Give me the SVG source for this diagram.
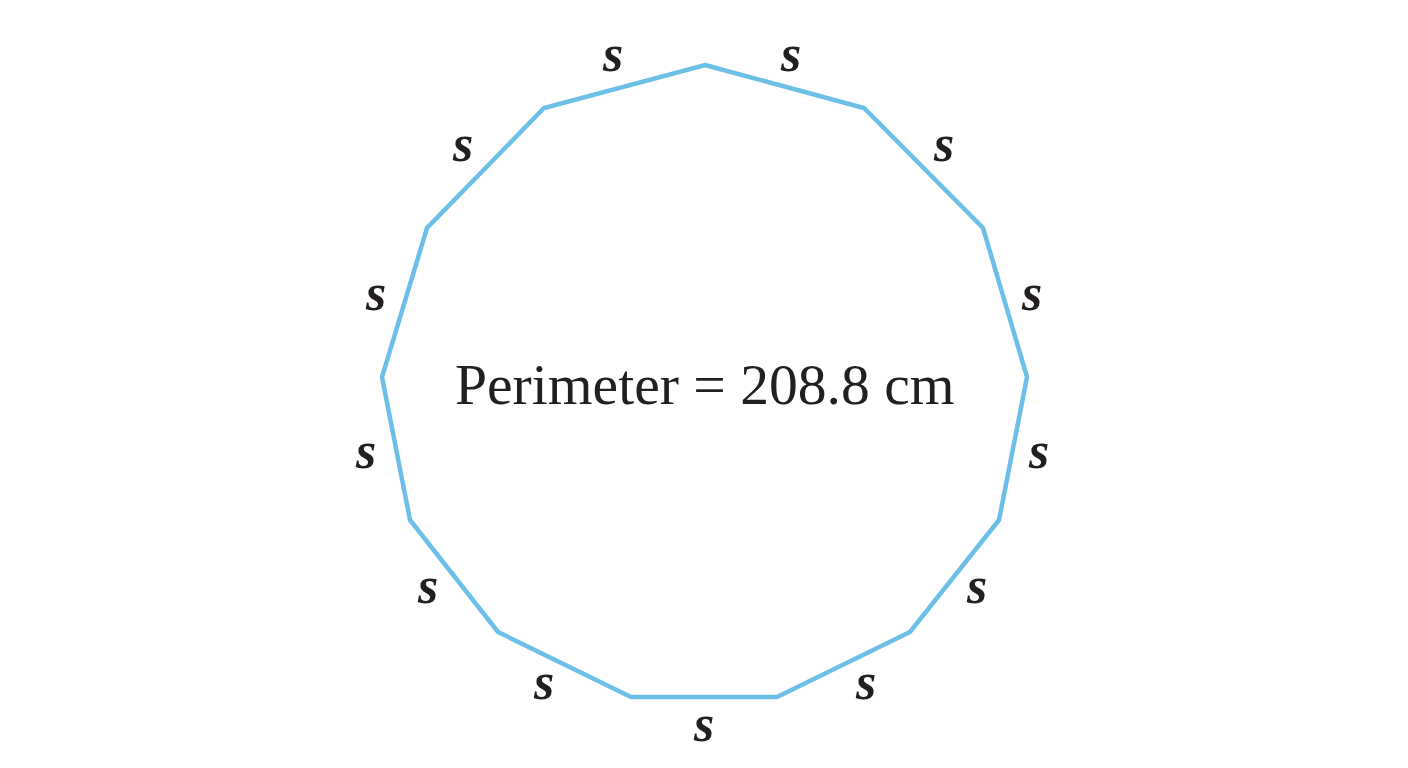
<svg xmlns="http://www.w3.org/2000/svg" width="1408" height="768" viewBox="0 0 1408 768">
<style>
.side{fill:none;stroke:#6CBFE7;stroke-width:4.5;stroke-linejoin:miter}
.s{font-family:"Liberation Serif","Times New Roman",serif;font-style:italic;font-weight:bold;font-size:52px;fill:#231F20;text-anchor:middle}
.t{font-family:"Liberation Serif","Times New Roman",serif;font-size:57.6px;fill:#231F20}
</style>
<rect width="1408" height="768" fill="#ffffff"/>
<g id="polygon">
<polygon class="side" points="705,65 864,108 983,228 1027,377 999,520 910,632 777,697 631,697 498,632 410,520 382,377 427,228 544,108"/>
</g>
<g id="labels">
<text class="s" x="613" y="71">s</text>
<text class="s" x="791" y="71">s</text>
<text class="s" x="944" y="161">s</text>
<text class="s" x="1032" y="310">s</text>
<text class="s" x="1039" y="468">s</text>
<text class="s" x="977" y="603">s</text>
<text class="s" x="866" y="699">s</text>
<text class="s" x="704" y="741">s</text>
<text class="s" x="544" y="699">s</text>
<text class="s" x="428" y="603">s</text>
<text class="s" x="366" y="468">s</text>
<text class="s" x="376" y="310">s</text>
<text class="s" x="463" y="161">s</text>
</g>
<g id="perimeter">
<text class="t" x="455" y="404">Perimeter = 208.8 cm</text>
</g>
</svg>
